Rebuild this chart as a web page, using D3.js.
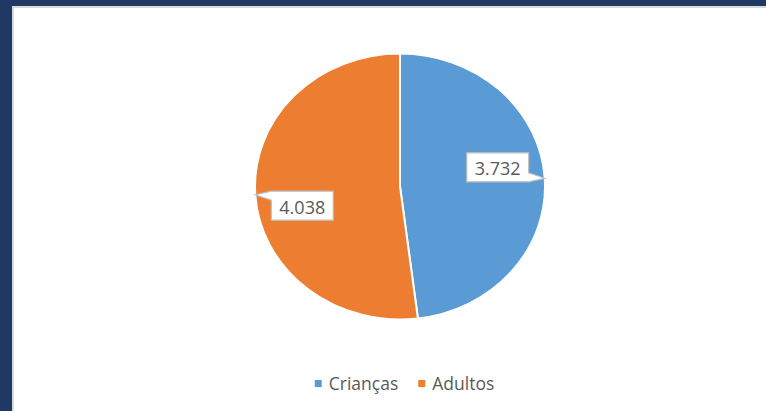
<!DOCTYPE html>
<html>
<head>
<meta charset="utf-8">
<script src="https://cdn.jsdelivr.net/npm/d3@7"></script>
<style>
    html, body { margin: 0; padding: 0; background: #1f3864; }
    svg { display: block; }
</style>
</head>
<body>
<svg id="pie-chart" width="766" height="411"></svg>
<script>
// chart data
const categories = ['Crianças', 'Adultos'];
const values = [3732, 4038];
const colors = ['#5b9bd5', '#ed7d31'];

const width = 766;
const height = 411;
const fontFamily = '"Open Sans", "Noto Sans", sans-serif';
const textColor = '#595959';

const svg = d3.select('#pie-chart');

// pt-BR number format: 3.732
const locale = d3.formatLocale({ decimal: ',', thousands: '.', grouping: [3], currency: ['R$', ''] });
const fmt = locale.format(',');

function drawFrame() {
    svg.append('rect')
        .attr('x', 12).attr('y', 6)
        .attr('width', width - 12).attr('height', height - 6)
        .attr('fill', '#d9d9d9');
    svg.append('rect')
        .attr('x', 14).attr('y', 8)
        .attr('width', width - 14).attr('height', height - 8)
        .attr('fill', '#ffffff');
}

function drawPie() {
    const cx = 400, cy = 186.5, rx = 145, ry = 133;
    const pie = d3.pie().sort(null).value((d) => d.value);
    const arcs = pie(categories.map((c, i) => ({ name: c, value: values[i], color: colors[i] })));
    const arc = d3.arc().innerRadius(0).outerRadius(rx);

    const g = svg.append('g')
        .attr('transform', `translate(${cx},${cy}) scale(1,${ry / rx})`);
    g.selectAll('path')
        .data(arcs)
        .enter()
        .append('path')
        .attr('d', arc)
        .attr('fill', (d) => d.data.color)
        .attr('stroke', '#ffffff')
        .attr('stroke-width', 2)
        .attr('vector-effect', 'non-scaling-stroke');

    // callout labels
    arcs.forEach((d) => {
        const a = (d.startAngle + d.endAngle) / 2;
        const tx = cx + rx * Math.sin(a);
        const ty = cy - ry * Math.cos(a);
        const side = Math.sin(a) >= 0 ? 1 : -1;
        const bx = tx - side * 47;
        const by = ty - side * 11;

        const lg = svg.append('g');
        const path = lg.append('path');
        const text = lg.append('text')
            .text(fmt(d.data.value))
            .attr('x', bx).attr('y', by + 1)
            .attr('text-anchor', 'middle')
            .attr('dominant-baseline', 'central')
            .attr('font-family', fontFamily)
            .attr('font-size', '18px')
            .attr('fill', textColor);
        const tw = text.node().getComputedTextLength();
        const w = tw + 16, h = 29;
        const x0 = bx - w / 2, x1 = bx + w / 2, y0 = by - h / 2, y1 = by + h / 2;
        let p;
        if (side > 0) {
            p = `M${x0},${y0}H${x1}V${y1 - 9}L${tx},${ty}L${x1},${y1}H${x0}Z`;
        } else {
            p = `M${x0},${y0}H${x1}V${y1}H${x0}V${y0 + 9}L${tx},${ty}Z`;
        }
        path.attr('d', p)
            .attr('fill', '#ffffff')
            .attr('stroke', '#bfbfbf')
            .attr('stroke-width', 1.2);
    });
}

function drawLegend() {
    const legendY = 383.5;
    const g = svg.append('g');
    const items = categories.map((c, i) => {
        const item = g.append('g');
        item.append('rect')
            .attr('width', 7).attr('height', 7)
            .attr('y', legendY - 3.5)
            .attr('fill', colors[i]);
        const t = item.append('text')
            .text(c)
            .attr('x', 14)
            .attr('y', legendY + 6.5)
            .attr('font-family', fontFamily)
            .attr('font-size', '17.5px')
            .attr('fill', textColor);
        return { item, w: 14 + t.node().getComputedTextLength() };
    });
    const gap = 20;
    const total = d3.sum(items, (d) => d.w) + gap * (items.length - 1);
    let x = 404.5 - total / 2;
    items.forEach((d) => {
        d.item.attr('transform', `translate(${x},0)`);
        x += d.w + gap;
    });
}

drawFrame();
drawPie();
drawLegend();
</script>
</body>
</html>
